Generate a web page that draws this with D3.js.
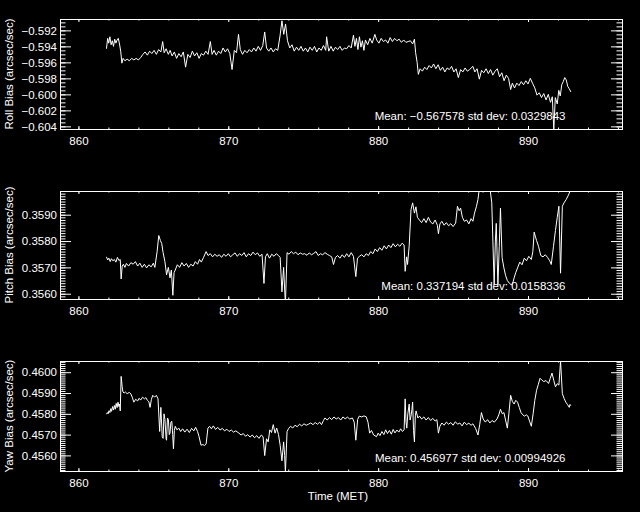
<!DOCTYPE html>
<html>
<head>
<meta charset="utf-8">
<script src="https://cdn.jsdelivr.net/npm/d3@7"></script>
<style>
    body { margin: 0; background: #000; }
    svg { color: #fff; }
    svg text { font-family: "Liberation Sans", Arial, sans-serif; font-size: 11.5px; fill: #fff; }
    .tick line { stroke: #fff; }
</style>
</head>
<body>
<svg id="chart" width="640" height="512"></svg>
<script>
// Roll bias, [time (MET), arcsec/sec]
const rollData = [
    [861.87,-0.5943],[861.95,-0.5930],[862.02,-0.5936],[862.1,-0.5928],[862.18,-0.5938],[862.26,-0.5933],[862.34,-0.5940],[862.42,-0.5931],
    [862.5,-0.5936],[862.58,-0.5932],[862.66,-0.5930],[862.74,-0.5937],[862.82,-0.5946],[862.9,-0.5961],[862.98,-0.5955],[863.1,-0.5958],
    [863.25,-0.5956],[863.4,-0.5958],[863.55,-0.5955],[863.7,-0.5957],[863.85,-0.5955],[864.0,-0.5957],[864.15,-0.5954],[864.3,-0.5950],
    [864.45,-0.5947],[864.6,-0.5951],[864.75,-0.5946],[864.9,-0.5949],[865.05,-0.5945],[865.2,-0.5950],[865.35,-0.5944],[865.5,-0.5947],
    [865.62,-0.5934],[865.72,-0.5948],[865.85,-0.5943],[866.0,-0.5950],[866.12,-0.5945],[866.25,-0.5952],[866.4,-0.5947],[866.55,-0.5955],
    [866.7,-0.5949],[866.85,-0.5953],[867.0,-0.5947],[867.15,-0.5966],[867.3,-0.5950],[867.45,-0.5954],[867.6,-0.5946],[867.75,-0.5952],
    [867.9,-0.5948],[868.05,-0.5955],[868.2,-0.5949],[868.35,-0.5951],[868.5,-0.5946],[868.65,-0.5950],[868.8,-0.5934],[868.92,-0.5950],
    [869.05,-0.5945],[869.2,-0.5951],[869.35,-0.5946],[869.5,-0.5949],[869.65,-0.5942],[869.8,-0.5947],[869.95,-0.5943],[870.1,-0.5949],
    [870.25,-0.5969],[870.4,-0.5945],[870.55,-0.5948],[870.68,-0.5925],[870.8,-0.5944],[870.95,-0.5950],[871.1,-0.5945],[871.25,-0.5948],
    [871.4,-0.5944],[871.55,-0.5947],[871.7,-0.5942],[871.85,-0.5946],[872.0,-0.5940],[872.15,-0.5945],[872.3,-0.5939],[872.43,-0.5922],
    [872.55,-0.5942],[872.7,-0.5946],[872.85,-0.5942],[873.0,-0.5947],[873.15,-0.5943],[873.3,-0.5945],[873.45,-0.5927],[873.58,-0.5908],
    [873.7,-0.5925],[873.82,-0.5912],[873.95,-0.5933],[874.1,-0.5942],[874.25,-0.5938],[874.4,-0.5946],[874.55,-0.5941],[874.7,-0.5945],
    [874.85,-0.5940],[875.0,-0.5946],[875.15,-0.5942],[875.3,-0.5947],[875.45,-0.5941],[875.6,-0.5945],[875.75,-0.5940],[875.9,-0.5947],
    [876.05,-0.5942],[876.2,-0.5945],[876.35,-0.5939],[876.5,-0.5945],[876.56,-0.5928],[876.7,-0.5946],[876.85,-0.5940],[877.0,-0.5946],
    [877.15,-0.5941],[877.3,-0.5944],[877.45,-0.5940],[877.6,-0.5945],[877.75,-0.5942],[877.9,-0.5943],[878.05,-0.5939],[878.2,-0.5942],
    [878.35,-0.5926],[878.45,-0.5940],[878.55,-0.5930],[878.65,-0.5944],[878.75,-0.5928],[878.85,-0.5941],[878.95,-0.5933],[879.05,-0.5945],
    [879.15,-0.5932],[879.3,-0.5938],[879.45,-0.5930],[879.6,-0.5936],[879.78,-0.5925],[879.9,-0.5932],[880.05,-0.5936],[880.2,-0.5930],
    [880.35,-0.5934],[880.5,-0.5932],[880.65,-0.5936],[880.8,-0.5929],[880.95,-0.5934],[881.1,-0.5930],[881.25,-0.5933],[881.4,-0.5931],
    [881.55,-0.5935],[881.7,-0.5932],[881.85,-0.5935],[882.0,-0.5934],[882.15,-0.5933],[882.3,-0.5937],[882.42,-0.5931],[882.5,-0.5948],
    [882.6,-0.5960],[882.68,-0.5975],[882.8,-0.5968],[882.95,-0.5971],[883.1,-0.5966],[883.25,-0.5969],[883.4,-0.5964],[883.55,-0.5967],
    [883.7,-0.5962],[883.85,-0.5968],[884.0,-0.5963],[884.15,-0.5970],[884.3,-0.5966],[884.45,-0.5972],[884.6,-0.5967],[884.75,-0.5969],
    [884.9,-0.5965],[885.05,-0.5972],[885.2,-0.5968],[885.35,-0.5979],[885.5,-0.5969],[885.65,-0.5972],[885.8,-0.5967],[885.95,-0.5971],
    [886.1,-0.5969],[886.32,-0.5965],[886.45,-0.5972],[886.6,-0.5968],[886.75,-0.5981],[886.9,-0.5970],[887.05,-0.5973],[887.2,-0.5968],
    [887.35,-0.5974],[887.5,-0.5969],[887.65,-0.5976],[887.8,-0.5971],[887.95,-0.5968],[888.1,-0.5978],[888.25,-0.5973],[888.4,-0.5983],
    [888.55,-0.5976],[888.7,-0.5980],[888.84,-0.5994],[888.95,-0.5986],[889.1,-0.5992],[889.25,-0.5986],[889.4,-0.5989],[889.55,-0.5984],
    [889.7,-0.5988],[889.85,-0.5983],[890.0,-0.5987],[890.15,-0.5980],[890.3,-0.5986],[890.45,-0.5992],[890.6,-0.6001],[890.75,-0.5998],
    [890.9,-0.6004],[891.05,-0.5999],[891.2,-0.6007],[891.35,-0.6000],[891.5,-0.6010],[891.62,-0.6003],[891.72,-0.6044],[891.82,-0.6004],
    [891.95,-0.6012],[892.05,-0.5995],[892.15,-0.6002],[892.25,-0.5988],[892.35,-0.5984],[892.45,-0.5979],[892.55,-0.5982],[892.65,-0.5990],
    [892.75,-0.5993],[892.86,-0.5997]
];

// Pitch bias
const pitchData = [
    [861.87,0.35740],[861.95,0.35728],[862.03,0.35735],[862.12,0.35722],[862.2,0.35733],[862.3,0.35725],[862.4,0.35730],[862.5,0.35720],
    [862.6,0.35738],[862.7,0.35726],[862.79,0.35730],[862.85,0.35656],[862.92,0.35705],[863.0,0.35712],[863.1,0.35700],[863.2,0.35715],
    [863.35,0.35705],[863.5,0.35718],[863.65,0.35712],[863.8,0.35722],[863.95,0.35705],[864.1,0.35716],[864.25,0.35700],[864.4,0.35712],
    [864.55,0.35698],[864.7,0.35710],[864.85,0.35702],[865.0,0.35716],[865.1,0.35700],[865.25,0.35760],[865.36,0.35821],[865.47,0.35802],
    [865.56,0.35790],[865.65,0.35756],[865.77,0.35722],[865.88,0.35672],[866.0,0.35700],[866.11,0.35660],[866.2,0.35690],[866.3,0.35594],
    [866.38,0.35680],[866.46,0.35690],[866.6,0.35710],[866.75,0.35700],[866.9,0.35718],[867.05,0.35705],[867.2,0.35715],[867.35,0.35700],
    [867.5,0.35712],[867.65,0.35705],[867.8,0.35722],[867.95,0.35712],[868.08,0.35730],[868.2,0.35720],[868.35,0.35738],[868.52,0.35760],
    [868.65,0.35745],[868.8,0.35752],[868.95,0.35740],[869.1,0.35750],[869.25,0.35742],[869.4,0.35748],[869.55,0.35738],[869.7,0.35750],
    [869.85,0.35742],[870.0,0.35752],[870.15,0.35740],[870.3,0.35748],[870.45,0.35755],[870.6,0.35742],[870.75,0.35752],[870.9,0.35745],
    [871.05,0.35756],[871.2,0.35740],[871.35,0.35752],[871.5,0.35745],[871.65,0.35758],[871.8,0.35748],[871.95,0.35755],[872.1,0.35742],
    [872.25,0.35750],[872.38,0.35639],[872.48,0.35740],[872.6,0.35752],[872.75,0.35735],[872.9,0.35750],[873.05,0.35742],[873.2,0.35752],
    [873.35,0.35745],[873.46,0.35738],[873.58,0.35607],[873.69,0.35700],[873.81,0.35560],[873.92,0.35756],[874.05,0.35750],[874.2,0.35760],
    [874.35,0.35752],[874.5,0.35758],[874.65,0.35748],[874.8,0.35755],[874.95,0.35750],[875.1,0.35752],[875.25,0.35746],[875.4,0.35755],
    [875.55,0.35748],[875.7,0.35753],[875.85,0.35760],[876.0,0.35745],[876.15,0.35752],[876.3,0.35748],[876.45,0.35756],[876.6,0.35750],
    [876.75,0.35745],[876.9,0.35740],[877.02,0.35711],[877.15,0.35738],[877.3,0.35745],[877.45,0.35735],[877.6,0.35748],[877.75,0.35738],
    [877.9,0.35752],[878.05,0.35740],[878.2,0.35756],[878.35,0.35742],[878.51,0.35665],[878.62,0.35735],[878.75,0.35742],[878.9,0.35748],
    [879.05,0.35740],[879.2,0.35752],[879.35,0.35745],[879.5,0.35760],[879.65,0.35752],[879.8,0.35770],[879.95,0.35760],[880.1,0.35775],
    [880.25,0.35765],[880.4,0.35782],[880.55,0.35770],[880.7,0.35785],[880.85,0.35775],[881.0,0.35790],[881.15,0.35778],[881.3,0.35788],
    [881.45,0.35780],[881.6,0.35792],[881.73,0.35785],[881.8,0.35685],[881.9,0.35740],[881.96,0.35711],[882.07,0.35782],[882.19,0.35919],
    [882.3,0.35945],[882.42,0.35906],[882.52,0.35930],[882.62,0.35890],[882.75,0.35880],[882.9,0.35870],[883.05,0.35885],[883.2,0.35870],
    [883.35,0.35890],[883.5,0.35872],[883.65,0.35865],[883.8,0.35880],[883.95,0.35860],[884.02,0.35828],[884.12,0.35865],[884.25,0.35875],
    [884.4,0.35860],[884.55,0.35870],[884.7,0.35858],[884.85,0.35866],[885.0,0.35855],[885.17,0.35868],[885.29,0.35932],[885.4,0.35915],
    [885.5,0.35925],[885.62,0.35890],[885.75,0.35875],[885.9,0.35880],[886.05,0.35865],[886.2,0.35885],[886.32,0.35875],[886.43,0.35906],
    [886.55,0.35930],[886.66,0.35958],[886.73,0.35990],[886.85,0.35998],[887.0,0.35985],[887.15,0.35995],[887.3,0.35990],[887.47,0.35995],
    [887.58,0.35945],[887.74,0.35633],[887.82,0.35800],[887.88,0.35867],[887.99,0.35633],[888.08,0.35780],[888.16,0.35925],[888.27,0.35737],
    [888.39,0.35698],[888.5,0.35670],[888.62,0.35650],[888.75,0.35640],[888.9,0.35633],[889.0,0.35645],[889.07,0.35660],[889.18,0.35680],
    [889.3,0.35698],[889.45,0.35720],[889.6,0.35710],[889.75,0.35735],[889.9,0.35725],[890.05,0.35742],[890.22,0.35730],[890.32,0.35760],
    [890.41,0.35834],[890.5,0.35815],[890.57,0.35802],[890.7,0.35780],[890.85,0.35745],[891.0,0.35740],[891.15,0.35748],[891.3,0.35738],
    [891.45,0.35725],[891.55,0.35711],[891.7,0.35780],[891.83,0.35840],[891.95,0.35890],[892.06,0.35932],[892.17,0.35678],[892.29,0.35932],
    [892.4,0.35945],[892.55,0.35958],[892.7,0.35975],[892.86,0.35997]
];

// Yaw bias
const yawData = [
    [861.87,0.45798],[861.93,0.45806],[861.98,0.45800],[862.04,0.45815],[862.1,0.45806],[862.16,0.45825],[862.21,0.45812],[862.28,0.45835],
    [862.34,0.45818],[862.4,0.45840],[862.46,0.45822],[862.52,0.45850],[862.58,0.45830],[862.64,0.45856],[862.7,0.45835],[862.75,0.45847],
    [862.79,0.45814],[862.85,0.45980],[862.92,0.45930],[862.97,0.45905],[863.05,0.45900],[863.13,0.45905],[863.25,0.45897],[863.4,0.45903],
    [863.5,0.45895],[863.59,0.45880],[863.7,0.45856],[863.82,0.45870],[863.95,0.45862],[864.05,0.45875],[864.15,0.45866],[864.28,0.45880],
    [864.4,0.45872],[864.5,0.45878],[864.6,0.45865],[864.7,0.45858],[864.78,0.45831],[864.87,0.45870],[864.96,0.45889],[865.08,0.45880],
    [865.2,0.45889],[865.31,0.45872],[865.42,0.45715],[865.5,0.45831],[865.59,0.45690],[865.65,0.45682],[865.71,0.45800],[865.77,0.45773],
    [865.85,0.45680],[865.88,0.45673],[865.94,0.45780],[866.0,0.45773],[866.06,0.45700],[866.11,0.45707],[866.17,0.45760],[866.23,0.45764],
    [866.29,0.45700],[866.34,0.45632],[866.4,0.45720],[866.46,0.45740],[866.57,0.45723],[866.7,0.45731],[866.82,0.45715],[866.95,0.45728],
    [867.1,0.45712],[867.25,0.45726],[867.4,0.45710],[867.55,0.45730],[867.7,0.45718],[867.82,0.45735],[867.95,0.45715],[868.05,0.45690],
    [868.18,0.45649],[868.3,0.45652],[868.42,0.45648],[868.52,0.45655],[868.64,0.45731],[868.75,0.45740],[868.87,0.45728],[869.0,0.45742],
    [869.15,0.45725],[869.3,0.45735],[869.45,0.45722],[869.6,0.45730],[869.75,0.45718],[869.9,0.45726],[870.05,0.45715],[870.2,0.45722],
    [870.35,0.45712],[870.5,0.45718],[870.71,0.45707],[870.85,0.45698],[871.0,0.45705],[871.15,0.45692],[871.3,0.45700],[871.45,0.45688],
    [871.6,0.45698],[871.75,0.45685],[871.9,0.45695],[872.05,0.45682],[872.2,0.45698],[872.32,0.45690],[872.43,0.45599],[872.55,0.45680],
    [872.66,0.45665],[872.77,0.45723],[872.88,0.45710],[873.0,0.45748],[873.12,0.45707],[873.23,0.45731],[873.35,0.45700],[873.46,0.45649],
    [873.58,0.45574],[873.69,0.45665],[873.76,0.45600],[873.81,0.45516],[873.92,0.45715],[874.03,0.45730],[874.15,0.45740],[874.3,0.45732],
    [874.45,0.45745],[874.6,0.45738],[874.75,0.45750],[874.9,0.45742],[875.05,0.45752],[875.2,0.45745],[875.35,0.45750],[875.5,0.45756],
    [875.65,0.45748],[875.8,0.45758],[875.95,0.45750],[876.1,0.45760],[876.22,0.45748],[876.35,0.45768],[876.45,0.45780],[876.6,0.45770],
    [876.75,0.45782],[876.9,0.45772],[877.05,0.45785],[877.2,0.45775],[877.35,0.45782],[877.5,0.45770],[877.65,0.45785],[877.8,0.45776],
    [877.95,0.45784],[878.1,0.45775],[878.28,0.45780],[878.4,0.45760],[878.51,0.45673],[878.63,0.45773],[878.74,0.45789],[878.9,0.45785],
    [879.05,0.45790],[879.2,0.45786],[879.32,0.45760],[879.43,0.45707],[879.55,0.45720],[879.7,0.45698],[879.89,0.45690],[880.0,0.45707],
    [880.12,0.45695],[880.25,0.45715],[880.38,0.45700],[880.5,0.45723],[880.62,0.45705],[880.75,0.45720],[880.88,0.45702],[881.0,0.45725],
    [881.12,0.45708],[881.25,0.45722],[881.38,0.45712],[881.5,0.45728],[881.62,0.45715],[881.73,0.45723],[881.8,0.45872],[881.86,0.45760],
    [881.91,0.45731],[881.98,0.45800],[882.07,0.45847],[882.13,0.45770],[882.19,0.45789],[882.25,0.45820],[882.3,0.45856],[882.36,0.45720],
    [882.42,0.45665],[882.48,0.45790],[882.53,0.45814],[882.65,0.45780],[882.76,0.45789],[882.9,0.45775],[883.05,0.45785],[883.2,0.45770],
    [883.35,0.45782],[883.5,0.45768],[883.65,0.45778],[883.8,0.45765],[883.92,0.45772],[884.02,0.45707],[884.12,0.45740],[884.25,0.45756],
    [884.4,0.45745],[884.55,0.45760],[884.7,0.45750],[884.85,0.45758],[885.0,0.45745],[885.15,0.45762],[885.3,0.45750],[885.45,0.45756],
    [885.6,0.45742],[885.75,0.45760],[885.9,0.45748],[886.05,0.45755],[886.2,0.45745],[886.32,0.45752],[886.5,0.45730],[886.66,0.45698],
    [886.78,0.45750],[886.89,0.45806],[887.01,0.45775],[887.15,0.45760],[887.3,0.45772],[887.45,0.45756],[887.6,0.45768],[887.75,0.45760],
    [887.93,0.45775],[888.05,0.45795],[888.16,0.45822],[888.28,0.45800],[888.39,0.45806],[888.5,0.45770],[888.62,0.45731],[888.72,0.45800],
    [888.84,0.45889],[888.95,0.45860],[889.07,0.45847],[889.18,0.45865],[889.3,0.45856],[889.42,0.45830],[889.53,0.45806],[889.65,0.45795],
    [889.76,0.45789],[889.88,0.45795],[889.99,0.45789],[890.1,0.45765],[890.22,0.45740],[890.34,0.45800],[890.45,0.45864],[890.57,0.45913],
    [890.68,0.45940],[890.8,0.45971],[890.91,0.45963],[891.05,0.45955],[891.2,0.45960],[891.37,0.45946],[891.48,0.45970],[891.6,0.45996],
    [891.72,0.45960],[891.83,0.45930],[891.95,0.45945],[892.06,0.45938],[892.17,0.46054],[892.29,0.45897],[892.4,0.45875],[892.52,0.45856],
    [892.63,0.45845],[892.75,0.45831],[892.8,0.45845],[892.86,0.45839]
];

const panelTitles = ["Roll Bias (arcsec/sec)", "Pitch Bias (arcsec/sec)", "Yaw Bias (arcsec/sec)"];
const statLabels = [
    "Mean: \u22120.567578 std dev: 0.0329843",
    "Mean: 0.337194 std dev: 0.0158336",
    "Mean: 0.456977 std dev: 0.00994926"
];
const yDomains = [[-0.60433, -0.59058], [0.3558, 0.3599], [0.45525, 0.46054]];
const yMajorTicks = [
    [-0.604, -0.602, -0.600, -0.598, -0.596, -0.594, -0.592],
    [0.3560, 0.3570, 0.3580, 0.3590],
    [0.4560, 0.4570, 0.4580, 0.4590, 0.4600]
];
const yMinorStep = [0.0005, 0.0001, 0.0001];
const yFormats = [".3f", ".4f", ".4f"];
const xMajorTicks = [860, 870, 880, 890];
const xDomain = [858.77, 896.27];
const xTitle = "Time (MET)";

const series = [rollData, pitchData, yawData];
// pixel box of each panel: [top, bottom]
const panelBox = [[19, 129], [191, 299], [361, 471]];
const left = 60, right = 622;

const svg = d3.select("#chart");
svg.append("rect").attr("width", 640).attr("height", 512).attr("fill", "#000");

const x = d3.scaleLinear().domain(xDomain).range([left, right]);
const xMinor = d3.range(860, 897, 2);

series.forEach((data, i) => {
    const [top, bottom] = panelBox[i];
    const y = d3.scaleLinear().domain(yDomains[i]).range([bottom, top]);
    const step = yMinorStep[i];
    const lo = Math.ceil(yDomains[i][0] / step), hi = Math.floor(yDomains[i][1] / step);
    const yMinor = d3.range(lo, hi + 1).map(k => +(k * step).toFixed(5));

    const g = svg.append("g");

    // ticks, all pointing inward
    const ax = [
        d3.axisBottom(x).tickValues(xMajorTicks).tickSize(-3).tickFormat(d3.format("d")),
        d3.axisBottom(x).tickValues(xMinor).tickSize(-1.5).tickFormat(""),
    ];
    ax.forEach(a => g.append("g").attr("transform", `translate(0,${bottom})`).call(a.tickSizeOuter(0)));
    [3, 1.5].forEach((len, k) => {
        g.append("g").attr("transform", `translate(0,${top})`)
            .call(d3.axisTop(x).tickValues(k ? xMinor : xMajorTicks).tickSize(-len).tickSizeOuter(0).tickFormat(""));
    });
    g.append("g").attr("transform", `translate(${left},0)`)
        .call(d3.axisLeft(y).tickValues(yMajorTicks[i]).tickSize(-11).tickSizeOuter(0).tickPadding(3).tickFormat(d3.format(yFormats[i])));
    g.append("g").attr("transform", `translate(${left},0)`)
        .call(d3.axisLeft(y).tickValues(yMinor).tickSize(-5.5).tickSizeOuter(0).tickFormat(""));
    g.append("g").attr("transform", `translate(${right},0)`)
        .call(d3.axisRight(y).tickValues(yMajorTicks[i]).tickSize(-11).tickSizeOuter(0).tickFormat(""));
    g.append("g").attr("transform", `translate(${right},0)`)
        .call(d3.axisRight(y).tickValues(yMinor).tickSize(-5.5).tickSizeOuter(0).tickFormat(""));

    g.selectAll(".domain").remove();
    g.selectAll(".tick text").attr("font-size", null).attr("font-family", null);
    g.selectAll("g").attr("font-size", null).attr("font-family", null);
    // x labels baseline ~16px under the axis
    g.selectAll(".tick text").filter(function () { return this.getAttribute("dy") === "0.71em"; })
        .attr("y", 8).attr("dy", "0.71em");

    // plot box
    g.append("rect")
        .attr("x", left + 0.5).attr("y", top + 0.5)
        .attr("width", right - left).attr("height", bottom - top)
        .attr("fill", "none").attr("stroke", "#fff").attr("stroke-width", 1);

    svg.append("clipPath").attr("id", "clip" + i)
        .append("rect").attr("x", left).attr("y", top).attr("width", right - left + 1).attr("height", bottom - top + 1);

    const line = d3.line().x(d => x(d[0])).y(d => y(d[1]));
    g.append("path")
        .datum(data)
        .attr("clip-path", `url(#clip${i})`)
        .attr("fill", "none")
        .attr("stroke", "#fff")
        .attr("stroke-width", 1)
        .attr("d", line);

    g.append("text")
        .attr("x", 565.5).attr("y", bottom - 9.5)
        .attr("text-anchor", "end")
        .text(statLabels[i]);

    g.append("text")
        .attr("transform", `translate(12.5,${(top + bottom) / 2}) rotate(-90)`)
        .attr("text-anchor", "middle")
        .text(panelTitles[i]);
});

svg.append("text")
    .attr("x", 338).attr("y", 500)
    .attr("text-anchor", "middle")
    .text(xTitle);
</script>
</body>
</html>
